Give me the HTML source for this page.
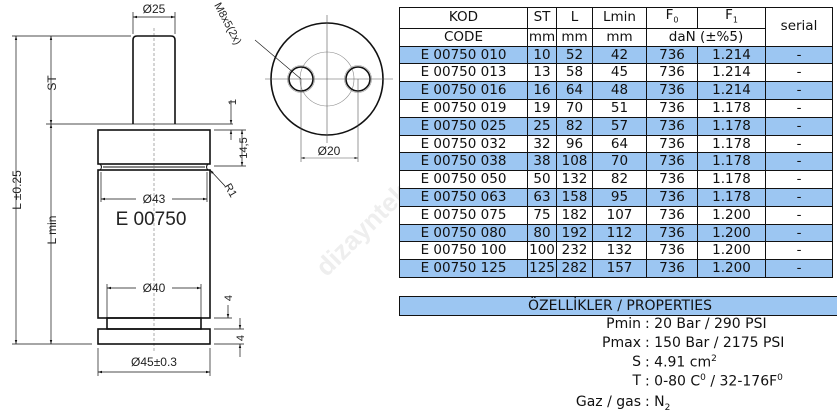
<!DOCTYPE html><html><head><meta charset="utf-8"><style>
body{margin:0;width:837px;height:414px;background:#fff;position:relative;overflow:hidden;font-family:"DejaVu Sans","Liberation Sans",sans-serif}
table{position:absolute;left:399px;top:7px;border-collapse:collapse;font-size:13.5px;color:#111;table-layout:fixed}
td{border:1.5px solid #111;padding:0;height:16.8px;line-height:15px;text-align:center;white-space:nowrap;overflow:hidden}
tr.b td{background:#9cc6f2}
.h td{height:17px}
.p{position:absolute;font-size:14px;color:#111;white-space:nowrap}
</style></head><body>
<svg width="837" height="414" style="position:absolute;left:0;top:0" font-family="Liberation Sans, sans-serif" font-size="12" fill="none" stroke="#111">
<defs><marker id="a" viewBox="0 0 10 10" refX="10" refY="5" markerWidth="6" markerHeight="6" orient="auto-start-reverse"><path d="M0,2L10,5L0,8z" fill="#111" stroke="none"/></marker></defs>
<text x="315" y="270" transform="rotate(-45 330 260)" font-size="26" font-weight="bold" fill="#eee" stroke="none">dizayntek</text>
<line x1="154" y1="28" x2="154" y2="352" stroke="#888" stroke-width="0.7" stroke-dasharray="3,2"/>
<path d="M133,124 V40 Q133,36 137,36 H171 Q175,36 175,40 V124" stroke-width="1.6"/>
<rect x="98" y="130" width="112" height="34" stroke-width="1.6"/>
<path d="M100,164 Q103,167 100,170 M208,164 Q205,167 208,170 M103,167 H205" stroke-width="1"/>
<rect x="98" y="170" width="112" height="148" stroke-width="1.6"/>
<rect x="107" y="318" width="94" height="11" stroke-width="1.6"/>
<rect x="98" y="329" width="112" height="15" stroke-width="1.6"/>
<g stroke-width="0.7">
<line x1="133" y1="12" x2="133" y2="34"/><line x1="175" y1="12" x2="175" y2="34"/>
<line x1="133" y1="17" x2="175" y2="17" marker-start="url(#a)" marker-end="url(#a)"/>
<line x1="12" y1="36" x2="131" y2="36"/><line x1="46" y1="124" x2="233" y2="124"/>
<line x1="12" y1="344" x2="92" y2="344"/>
<line x1="16" y1="36" x2="16" y2="344" marker-start="url(#a)" marker-end="url(#a)"/>
<line x1="51" y1="36" x2="51" y2="124" marker-start="url(#a)" marker-end="url(#a)"/>
<line x1="51" y1="124" x2="51" y2="344" marker-start="url(#a)" marker-end="url(#a)"/>
<line x1="214" y1="130" x2="246" y2="130"/><line x1="214" y1="166" x2="246" y2="166"/>
<line x1="231" y1="100" x2="231" y2="124" marker-end="url(#a)"/><line x1="231" y1="140" x2="231" y2="130" marker-end="url(#a)"/>
<line x1="242" y1="130" x2="242" y2="166" marker-start="url(#a)" marker-end="url(#a)"/>
<line x1="225" y1="186" x2="210" y2="170" marker-end="url(#a)"/>
<line x1="214" y1="318" x2="232" y2="318"/><line x1="214" y1="329" x2="244" y2="329"/><line x1="214" y1="344" x2="244" y2="344"/>
<line x1="228" y1="305" x2="228" y2="318" marker-end="url(#a)"/>
<line x1="240" y1="318" x2="240" y2="329" marker-end="url(#a)"/><line x1="240" y1="357" x2="240" y2="344" marker-end="url(#a)"/>
<line x1="101" y1="172" x2="101" y2="202"/><line x1="207" y1="172" x2="207" y2="202"/>
<line x1="101" y1="199" x2="136" y2="199" marker-start="url(#a)"/><line x1="172" y1="199" x2="207" y2="199" marker-end="url(#a)"/>
<line x1="107" y1="284" x2="107" y2="318"/><line x1="201" y1="284" x2="201" y2="318"/>
<line x1="107" y1="288" x2="136" y2="288" marker-start="url(#a)"/><line x1="172" y1="288" x2="201" y2="288" marker-end="url(#a)"/>
<line x1="98" y1="348" x2="98" y2="376"/><line x1="210" y1="348" x2="210" y2="376"/>
<line x1="98" y1="372" x2="210" y2="372" marker-start="url(#a)" marker-end="url(#a)"/>
</g>
<g fill="#222" stroke="none">
<text x="154" y="13" text-anchor="middle">Ø25</text>
<text x="154" y="203" text-anchor="middle">Ø43</text>
<text x="154" y="292" text-anchor="middle">Ø40</text>
<text x="154" y="366" text-anchor="middle">Ø45±0.3</text>
<text x="151" y="225" text-anchor="middle" font-size="19">E 00750</text>
<text transform="translate(21,190) rotate(-90)" text-anchor="middle">L ±0.25</text>
<text transform="translate(56,83) rotate(-90)" text-anchor="middle">ST</text>
<text transform="translate(56,230) rotate(-90)" text-anchor="middle">L min</text>
<text transform="translate(236,102) rotate(-90)" text-anchor="middle" font-size="11">1</text>
<text transform="translate(247,148) rotate(-90)" text-anchor="middle" font-size="11">14,5</text>
<text transform="translate(224,186) rotate(60)" font-size="11">R1</text>
<text transform="translate(232,298) rotate(-90)" text-anchor="middle" font-size="11">4</text>
<text transform="translate(244,338) rotate(-90)" text-anchor="middle" font-size="11">4</text>
<text transform="translate(214,5) rotate(62)" font-size="11">M8x5(2x)</text>
<text x="329" y="155" text-anchor="middle">Ø20</text>
</g>
<circle cx="327" cy="79" r="56" stroke-width="1.6"/>
<circle cx="327" cy="79" r="27" stroke="#888" stroke-width="0.6"/>
<circle cx="301" cy="79" r="12" stroke-width="1.6"/><circle cx="301" cy="79" r="13.5" stroke="#999" stroke-width="0.6"/>
<circle cx="358" cy="79" r="12" stroke-width="1.6"/><circle cx="358" cy="79" r="13.5" stroke="#999" stroke-width="0.6"/>
<g stroke-width="0.6" stroke="#555">
<line x1="265" y1="79" x2="393" y2="79"/><line x1="327" y1="15" x2="327" y2="143"/>
<line x1="301" y1="79" x2="301" y2="162"/><line x1="358" y1="79" x2="358" y2="162"/>
<line x1="301" y1="158" x2="358" y2="158" marker-start="url(#a)" marker-end="url(#a)"/>
<line x1="255" y1="40" x2="301" y2="79" stroke="#111"/>
</g>
</svg>
<table>
<colgroup><col style="width:128px"><col style="width:29px"><col style="width:36px"><col style="width:54px"><col style="width:51px"><col style="width:68px"><col style="width:67px"></colgroup>
<tr class="h"><td>KOD</td><td>ST</td><td>L</td><td>Lmin</td><td>F<sub style="font-size:8px">0</sub></td><td>F<sub style="font-size:8px">1</sub></td><td rowspan="2">serial</td></tr>
<tr class="h"><td>CODE</td><td>mm</td><td>mm</td><td>mm</td><td colspan="2">daN (±%5)</td></tr>
<tr class="b"><td>E 00750 010</td><td>10</td><td>52</td><td>42</td><td>736</td><td>1.214</td><td>-</td></tr>
<tr><td>E 00750 013</td><td>13</td><td>58</td><td>45</td><td>736</td><td>1.214</td><td>-</td></tr>
<tr class="b"><td>E 00750 016</td><td>16</td><td>64</td><td>48</td><td>736</td><td>1.214</td><td>-</td></tr>
<tr><td>E 00750 019</td><td>19</td><td>70</td><td>51</td><td>736</td><td>1.178</td><td>-</td></tr>
<tr class="b"><td>E 00750 025</td><td>25</td><td>82</td><td>57</td><td>736</td><td>1.178</td><td>-</td></tr>
<tr><td>E 00750 032</td><td>32</td><td>96</td><td>64</td><td>736</td><td>1.178</td><td>-</td></tr>
<tr class="b"><td>E 00750 038</td><td>38</td><td>108</td><td>70</td><td>736</td><td>1.178</td><td>-</td></tr>
<tr><td>E 00750 050</td><td>50</td><td>132</td><td>82</td><td>736</td><td>1.178</td><td>-</td></tr>
<tr class="b"><td>E 00750 063</td><td>63</td><td>158</td><td>95</td><td>736</td><td>1.178</td><td>-</td></tr>
<tr><td>E 00750 075</td><td>75</td><td>182</td><td>107</td><td>736</td><td>1.200</td><td>-</td></tr>
<tr class="b"><td>E 00750 080</td><td>80</td><td>192</td><td>112</td><td>736</td><td>1.200</td><td>-</td></tr>
<tr><td>E 00750 100</td><td>100</td><td>232</td><td>132</td><td>736</td><td>1.200</td><td>-</td></tr>
<tr class="b"><td>E 00750 125</td><td>125</td><td>282</td><td>157</td><td>736</td><td>1.200</td><td>-</td></tr>
</table>
<div style="position:absolute;left:399px;top:296px;width:440px;height:18px;background:#9cc6f2;border:1.5px solid #111;border-right:none;text-align:center;font-size:14px;line-height:18px;color:#111">ÖZELLİKLER / PROPERTIES</div>
<div class="p" style="right:196px;top:316px">Pmin</div><div class="p" style="left:645px;top:316px">: 20 Bar / 290 PSI</div>
<div class="p" style="right:196px;top:335px">Pmax</div><div class="p" style="left:645px;top:335px">: 150 Bar / 2175 PSI</div>
<div class="p" style="right:196px;top:354px">S</div><div class="p" style="left:645px;top:354px">: 4.91 cm<sup style="font-size:9px">2</sup></div>
<div class="p" style="right:196px;top:373px">T</div><div class="p" style="left:645px;top:373px">: 0-80 C<sup style="font-size:9px">0</sup> / 32-176F<sup style="font-size:9px">0</sup></div>
<div class="p" style="right:196px;top:394px">Gaz / gas</div><div class="p" style="left:645px;top:394px">: N<sub style="font-size:9px">2</sub></div>
</body></html>
